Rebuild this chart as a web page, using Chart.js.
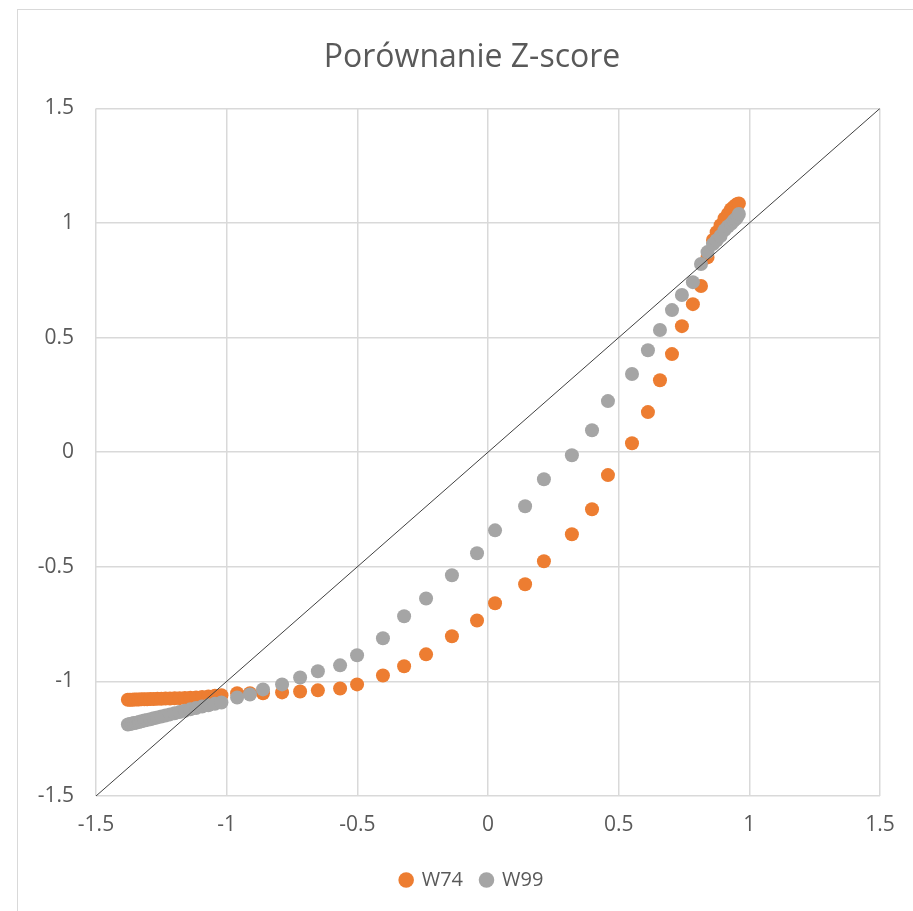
<!DOCTYPE html>
<html>
<head>
<meta charset="utf-8">
<script src="https://cdn.jsdelivr.net/npm/chart.js@4.4.1/dist/chart.umd.min.js"></script>
<style>
  body { margin: 0; background: #fff; overflow: hidden; }
  #frame { position: absolute; left: 17px; top: 9px; width: 940px; height: 940px; border: 1px solid #d9d9d9; }
  #wrap { position: absolute; left: 0; top: 0; width: 940px; height: 911px; }
</style>
</head>
<body>
<div id="frame"></div>
<div id="wrap"><canvas id="chart" width="940" height="911"></canvas></div>
<script>
// x values shared by both series (Z-score of reference)
const xValues = [
  -1.378, -1.370, -1.362, -1.354, -1.345, -1.336, -1.326, -1.315, -1.304, -1.292,
  -1.279, -1.265, -1.250, -1.234, -1.217, -1.199, -1.180, -1.160, -1.139, -1.117,
  -1.094, -1.070, -1.045, -1.020,
  -0.960, -0.911, -0.861, -0.788, -0.719, -0.651, -0.566, -0.501, -0.402, -0.321,
  -0.237, -0.138, -0.042, 0.027, 0.142, 0.214, 0.321, 0.398, 0.459, 0.551,
  0.612, 0.658, 0.704, 0.742, 0.784, 0.815, 0.840, 0.861, 0.875, 0.890,
  0.905, 0.918, 0.930, 0.940, 0.948, 0.955, 0.960
];
const w74Values = [
  -1.080, -1.080, -1.080, -1.079, -1.079, -1.079, -1.078, -1.078, -1.078, -1.077,
  -1.077, -1.076, -1.076, -1.075, -1.075, -1.074, -1.073, -1.072, -1.071, -1.070,
  -1.068, -1.066, -1.063, -1.060,
  -1.052, -1.052, -1.052, -1.048, -1.044, -1.039, -1.031, -1.013, -0.974, -0.934,
  -0.882, -0.803, -0.734, -0.659, -0.576, -0.476, -0.358, -0.249, -0.100, 0.039,
  0.175, 0.314, 0.428, 0.550, 0.646, 0.725, 0.850, 0.926, 0.960, 0.990,
  1.020, 1.040, 1.060, 1.070, 1.078, 1.083, 1.085
];
const w99Values = [
  -1.188, -1.186, -1.184, -1.182, -1.180, -1.177, -1.174, -1.171, -1.168, -1.165,
  -1.161, -1.157, -1.153, -1.149, -1.144, -1.139, -1.134, -1.128, -1.122, -1.116,
  -1.110, -1.104, -1.098, -1.092,
  -1.070, -1.057, -1.035, -1.013, -0.983, -0.956, -0.930, -0.886, -0.812, -0.716,
  -0.638, -0.537, -0.441, -0.341, -0.236, -0.118, -0.013, 0.096, 0.223, 0.341,
  0.445, 0.533, 0.620, 0.686, 0.742, 0.821, 0.873, 0.908, 0.925, 0.943,
  0.969, 0.985, 0.996, 1.010, 1.017, 1.028, 1.039
];
const diagonal = [-1.5, 1.5];
const axisTicks = [-1.5, -1, -0.5, 0, 0.5, 1, 1.5];

const textColor = "#595959";
const gridColor = "#d9d9d9";
const fontFamily = "'Open Sans', 'Noto Sans', sans-serif";

const toPoints = (ys) => xValues.map((x, i) => ({ x: x, y: ys[i] }));

new Chart(document.getElementById("chart").getContext("2d"), {
  type: "scatter",
  data: {
    datasets: [
      {
        label: "W74",
        data: toPoints(w74Values),
        backgroundColor: "#ed7d31",
        borderColor: "#ed7d31",
        pointRadius: 7,
        pointBorderWidth: 0,
        order: 3,
      },
      {
        label: "W99",
        data: toPoints(w99Values),
        backgroundColor: "#a5a5a5",
        borderColor: "#a5a5a5",
        pointRadius: 7,
        pointBorderWidth: 0,
        order: 2,
      },
      {
        label: "diag",
        type: "line",
        data: diagonal.map((v) => ({ x: v, y: v })),
        borderColor: "#404040",
        borderWidth: 1,
        pointRadius: 0,
        fill: false,
        order: 1,
      },
    ],
  },
  options: {
    responsive: false,
    animation: false,
    layout: { padding: { left: 17, right: 13, top: 0, bottom: 11 } },
    plugins: {
      title: {
        display: true,
        text: "Porównanie Z-score",
        color: textColor,
        font: { family: fontFamily, size: 32, weight: "normal" },
        padding: { top: 39, bottom: 31 },
      },
      legend: {
        position: "bottom",
        labels: {
          filter: (item) => item.text !== "diag",
          sort: (a, b) => a.datasetIndex - b.datasetIndex,
          usePointStyle: true,
          pointStyle: "circle",
          boxWidth: 11,
          boxHeight: 11,
          color: textColor,
          font: { family: fontFamily, size: 20 },
          padding: 18,
        },
      },
      tooltip: { enabled: false },
    },
    scales: {
      x: {
        type: "linear",
        min: -1.5,
        max: 1.5,
        afterBuildTicks: (axis) => { axis.ticks = axisTicks.map((v) => ({ value: v })); },
        afterFit: (axis) => { axis.height = 56; },
        grid: { color: gridColor, drawTicks: false, lineWidth: 1.5 },
        border: { display: false },
        ticks: {
          color: textColor,
          font: { family: fontFamily, size: 21 },
          padding: 16,
          callback: (v) => String(v),
        },
      },
      y: {
        type: "linear",
        min: -1.5,
        max: 1.5,
        afterBuildTicks: (axis) => { axis.ticks = axisTicks.map((v) => ({ value: v })); },
        afterFit: (axis) => { axis.width = 79; },
        grid: { color: gridColor, drawTicks: false, lineWidth: 1.5 },
        border: { display: false },
        ticks: {
          color: textColor,
          font: { family: fontFamily, size: 21 },
          padding: 22,
          callback: (v) => String(v),
        },
      },
      // empty right-hand spacer so title and legend centre on the whole frame
      spacer: {
        type: "linear",
        position: "right",
        display: true,
        afterFit: (axis) => { axis.width = 47; },
        grid: { drawOnChartArea: false, drawTicks: false },
        border: { display: false },
        ticks: { display: false },
      },
    },
  },
});
</script>
</body>
</html>
